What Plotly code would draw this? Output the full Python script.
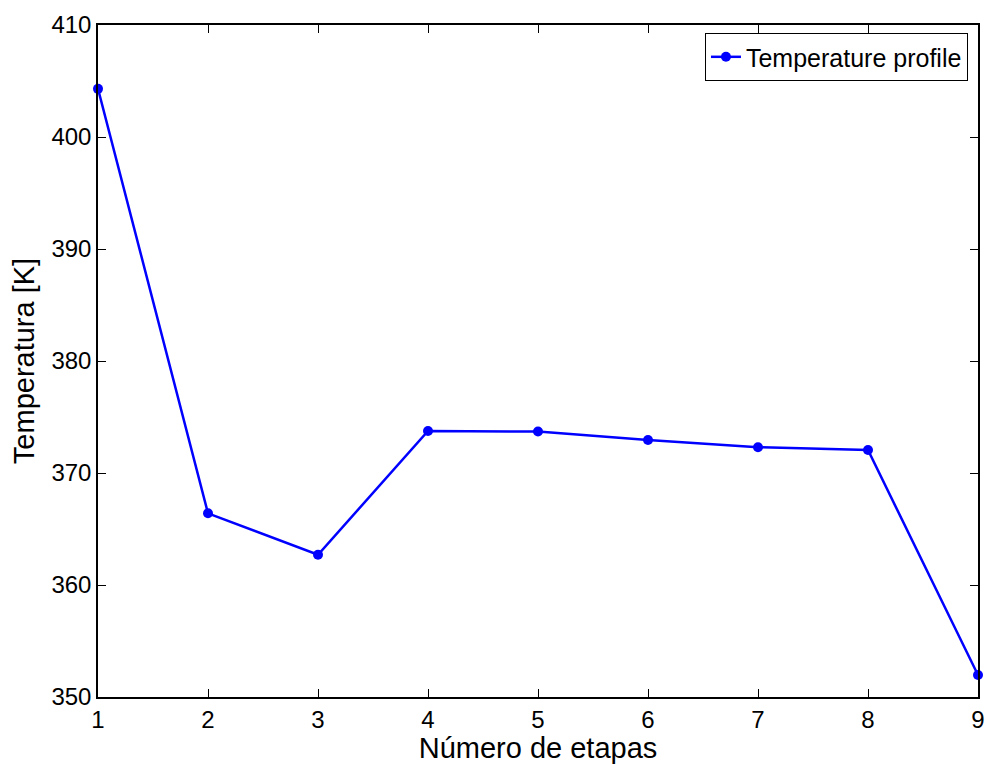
import plotly.graph_objects as go

etapas = [1, 2, 3, 4, 5, 6, 7, 8, 9]
temperatura = [404.3, 366.4, 362.7, 373.75, 373.7, 372.95, 372.3, 372.05, 351.96]
series_name = "Temperature profile"
x_ticks = [1, 2, 3, 4, 5, 6, 7, 8, 9]
y_ticks = [350, 360, 370, 380, 390, 400, 410]

FONT = "Liberation Sans, Arial"

fig = go.Figure()
fig.add_trace(go.Scatter(
    x=etapas, y=temperatura, mode="lines+markers", name=series_name,
    line=dict(color="#0000ff", width=2.5),
    marker=dict(color="#0000ff", size=10),
    cliponaxis=False,
))

axis_common = dict(
    showgrid=False, zeroline=False, showline=True, linecolor="black", linewidth=1.5,
    mirror="ticks", ticks="inside", ticklen=8, tickcolor="black", tickwidth=1,
    tickfont=dict(family=FONT, size=24, color="black"),
    automargin=False,
)

fig.update_layout(
    width=990, height=764,
    margin=dict(l=98, r=12, t=25, b=67),
    paper_bgcolor="white", plot_bgcolor="white",
    font=dict(family=FONT, color="black"),
    xaxis=dict(range=[1, 9], tickvals=x_ticks,
               title=dict(text="Número de etapas", font=dict(size=29), standoff=2),
               **axis_common),
    yaxis=dict(range=[350, 410], tickvals=y_ticks,
               title=dict(text="Temperatura [K]", font=dict(size=29), standoff=8),
               **axis_common),
    showlegend=True,
    legend=dict(x=0.9886, y=0.988, xanchor="right", yanchor="top",
                bgcolor="white", bordercolor="black", borderwidth=1,
                font=dict(size=25, family=FONT)),
)

fig.write_html("out.html", config={"displayModeBar": False},
               post_script="document.body.style.margin='0';")
